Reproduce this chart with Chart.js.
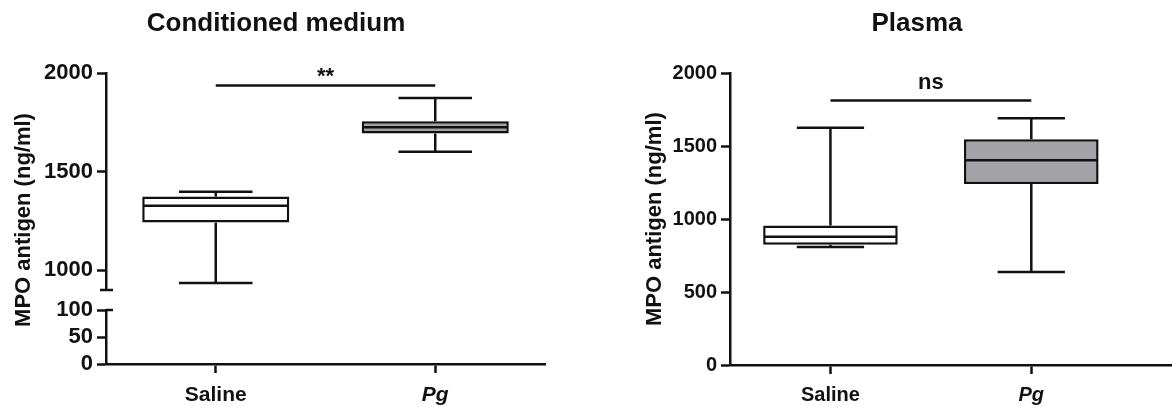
<!DOCTYPE html>
<html>
<head>
<meta charset="utf-8">
<script src="https://cdn.jsdelivr.net/npm/chart.js@4.4.1/dist/chart.umd.min.js"></script>
<style>
  html, body { margin: 0; padding: 0; background: #fff; overflow: hidden; }
  body { width: 1172px; height: 407px; position: relative; }
  canvas { position: absolute; }
</style>
</head>
<body>
<canvas id="cmTop" width="559" height="407" style="left:0;top:0"></canvas>
<canvas id="cmBottom" width="559" height="126" style="left:0;top:295px"></canvas>
<canvas id="plasma" width="574" height="418" style="left:618px;top:0"></canvas>

<script>
// Box plot data (ng/ml)
const groups = ['Saline', 'Pg'];

// Conditioned medium
const cmMin = [936, 1601];
const cmQ1 = [1242, 1694];
const cmMedian = [1328, 1726];
const cmQ3 = [1374, 1756];
const cmMax = [1399, 1874];
const cmSignif = 1938;
const cmSignifLabel = '**';
const cmUpperTicks = [1000, 1500, 2000];
const cmLowerTicks = [0, 50, 100];

// Plasma
const plMin = [808, 637];
const plQ1 = [824, 1241];
const plMedian = [879, 1403];
const plQ3 = [956, 1547];
const plMax = [1626, 1692];
const plSignif = 1813;
const plSignifLabel = 'ns';
const plTicks = [0, 500, 1000, 1500, 2000];

const ink = '#111111';
const boxFill = ['#ffffff', '#a3a3a7'];
const family = "'Liberation Sans', Arial, Helvetica, sans-serif";

Chart.defaults.font.family = family;
Chart.defaults.color = ink;

function boldFont(size, extra) {
    return Object.assign({ family: family, size: size, weight: 'bold', lineHeight: 1 }, extra || {});
}

function fixedTicks(list) {
    return function(scale) {
        scale.ticks = list.map(v => ({ value: v }));
    };
}

function line(ctx, x1, y1, x2, y2) {
    ctx.beginPath();
    ctx.moveTo(x1, y1);
    ctx.lineTo(x2, y2);
    ctx.stroke();
}

// Whiskers, caps and medians on top of the floating bars
function boxPlugin(lo, med, hi) {
    return {
        id: 'whiskers',
        afterDatasetsDraw(chart) {
            const { ctx, scales: { x, y } } = chart;
            const bars = chart.getDatasetMeta(0).data;
            ctx.save();
            ctx.strokeStyle = ink;
            ctx.lineWidth = 2.5;
            bars.forEach((bar, i) => {
                const cx = x.getPixelForValue(i);
                const half = bar.width / 2;
                const cap = bar.width / 4;
                const top = Math.min(bar.y, bar.base);
                const bottom = Math.max(bar.y, bar.base);
                const yHi = y.getPixelForValue(hi[i]);
                const yLo = y.getPixelForValue(lo[i]);
                line(ctx, cx - half + 1, y.getPixelForValue(med[i]), cx + half - 1, y.getPixelForValue(med[i]));
                line(ctx, cx, top, cx, yHi);
                line(ctx, cx - cap, yHi, cx + cap, yHi);
                line(ctx, cx, bottom, cx, yLo);
                line(ctx, cx - cap, yLo, cx + cap, yLo);
            });
            ctx.restore();
        }
    };
}

// Significance bar between the two groups
function signifPlugin(value, label, gap) {
    return {
        id: 'signif',
        afterDatasetsDraw(chart) {
            const { ctx, scales: { x, y } } = chart;
            const yy = y.getPixelForValue(value);
            const x1 = x.getPixelForValue(0);
            const x2 = x.getPixelForValue(1);
            ctx.save();
            ctx.strokeStyle = ink;
            ctx.lineWidth = 2.5;
            line(ctx, x1, yy, x2, yy);
            ctx.fillStyle = ink;
            ctx.font = 'bold 22px ' + family;
            ctx.textAlign = 'center';
            ctx.textBaseline = 'alphabetic';
            ctx.fillText(label, (x1 + x2) / 2, yy + gap);
            ctx.restore();
        }
    };
}

// Small cross strokes marking the axis break
function breakPlugin(value, left, right) {
    return {
        id: 'axisBreak',
        afterDraw(chart) {
            const { ctx, scales: { y } } = chart;
            const yy = y.getPixelForValue(value);
            const ax = chart.chartArea.left;
            ctx.save();
            ctx.strokeStyle = ink;
            ctx.lineWidth = 2.5;
            line(ctx, ax - left, yy, ax + right, yy);
            ctx.restore();
        }
    };
}

// Rotated y title shared by both halves of the broken axis
const leftTitlePlugin = {
    id: 'leftTitle',
    afterDraw(chart) {
        const ctx = chart.ctx;
        ctx.save();
        ctx.translate(24, 220);
        ctx.rotate(-Math.PI / 2);
        ctx.fillStyle = ink;
        ctx.font = 'bold 22px ' + family;
        ctx.textAlign = 'center';
        ctx.textBaseline = 'middle';
        ctx.fillText('MPO antigen (ng/ml)', 0, 0);
        ctx.restore();
    }
};

function boxData(q1, q3) {
    return {
        datasets: [{
            data: q1.map((v, i) => ({ x: i, y: [v, q3[i]] })),
            backgroundColor: boxFill,
            borderColor: ink,
            borderWidth: 2.5,
            borderSkipped: false,
            barPercentage: 0.67,
            categoryPercentage: 1
        }]
    };
}

const axisLine = { display: true, color: ink, width: 2.5 };
const axisGrid = { drawOnChartArea: false, drawTicks: true, offset: false, tickLength: 9, tickColor: ink, tickWidth: 2.5 };

function xScale(min, max, show, size, pad) {
    return {
        type: 'linear',
        display: show,
        min: min,
        max: max,
        offset: false,
        afterBuildTicks: fixedTicks([0, 1]),
        border: axisLine,
        grid: axisGrid,
        ticks: {
            padding: pad,
            autoSkip: false,
            color: ink,
            callback: v => groups[v],
            font: c => boldFont(size, { style: c.index === 1 ? 'italic' : 'normal' })
        }
    };
}

function yScale(min, max, list, width, size) {
    return {
        min: min,
        max: max,
        afterBuildTicks: fixedTicks(list),
        afterFit: s => { s.width = width; },
        border: axisLine,
        grid: axisGrid,
        ticks: { padding: 4, autoSkip: false, color: ink, font: boldFont(size), callback: v => String(v) }
    };
}

const base = {
    responsive: false,
    animation: false,
    events: [],
    plugins: { legend: { display: false }, tooltip: { enabled: false } }
};

// Conditioned medium, upper segment
new Chart(document.getElementById('cmTop'), {
    type: 'bar',
    data: boxData(cmQ1, cmQ3),
    options: Object.assign({}, base, {
        layout: { padding: { left: 7, right: 14, top: 0, bottom: 117 } },
        plugins: Object.assign({}, base.plugins, {
            title: {
                display: true,
                text: 'Conditioned medium',
                color: ink,
                font: { family: family, size: 26, weight: 'bold', lineHeight: 1.2 },
                padding: { top: 8, bottom: 34 }
            }
        }),
        scales: {
            x: xScale(-0.5, 1.5, false, 21, 12),
            y: yScale(900, 2000, cmUpperTicks, 99, 22)
        }
    }),
    plugins: [boxPlugin(cmMin, cmMedian, cmMax), signifPlugin(cmSignif, cmSignifLabel, -2),
              breakPlugin(900, 6, 7), leftTitlePlugin]
});

// Conditioned medium, lower segment
new Chart(document.getElementById('cmBottom'), {
    type: 'bar',
    data: { datasets: [] },
    options: Object.assign({}, base, {
        layout: { padding: { left: 7, right: 14, top: 15, bottom: 3 } },
        scales: {
            x: xScale(-0.5, 1.5, true, 21, 12),
            y: yScale(0, 100, cmLowerTicks, 99, 22)
        }
    }),
    plugins: [breakPlugin(100, 0, 7)]
});

// Plasma
new Chart(document.getElementById('plasma'), {
    type: 'bar',
    data: boxData(plQ1, plQ3),
    options: Object.assign({}, base, {
        layout: { padding: { left: 24, right: 0, top: 0, bottom: 2 } },
        plugins: Object.assign({}, base.plugins, {
            title: {
                display: true,
                text: 'Plasma',
                color: ink,
                font: { family: family, size: 26, weight: 'bold', lineHeight: 1.2 },
                padding: { top: 8, bottom: 34 }
            }
        }),
        scales: {
            x: xScale(-0.5, 1.8, true, 20, 11),
            y: Object.assign(yScale(0, 2000, plTicks, 88, 20), {
                title: {
                    display: true,
                    text: 'MPO antigen (ng/ml)',
                    color: ink,
                    font: { family: family, size: 22, weight: 'bold', lineHeight: 1.2 },
                    padding: { top: 0, bottom: 0 }
                }
            })
        }
    }),
    plugins: [boxPlugin(plMin, plMedian, plMax), signifPlugin(plSignif, plSignifLabel, -11)]
});
</script>
</body>
</html>
